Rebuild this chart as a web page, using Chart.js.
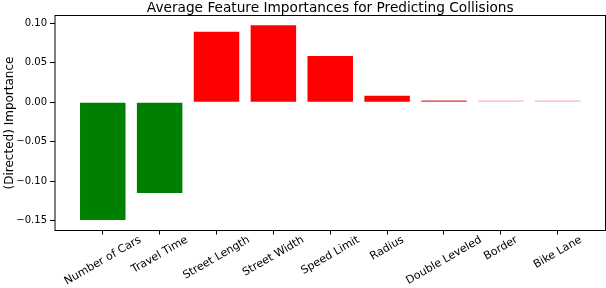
<!DOCTYPE html>
<html>
<head>
<meta charset="utf-8">
<script src="https://cdn.jsdelivr.net/npm/chart.js@4"></script>
<style>
  html, body { margin: 0; padding: 0; background: #ffffff; }
  #wrap { width: 606px; height: 288px; position: relative; }
</style>
</head>
<body>
<div id="wrap"><canvas id="c" width="606" height="288"></canvas></div>
<script>
// ---- data ----
const categories = ["Number of Cars", "Travel Time", "Street Length", "Street Width", "Speed Limit", "Radius", "Double Leveled", "Border", "Bike Lane"];
const importances = [-0.149, -0.1148, 0.0894, 0.0975, 0.0586, 0.0084, 0.0021, 0.0022, 0.0022];
const yTickValues = [-0.15, -0.10, -0.05, 0.00, 0.05, 0.10];
const titleText = "Average Feature Importances for Predicting Collisions";
const yAxisLabel = "(Directed) Importance";

// ---- styles ----
const barColors = ["#008000", "#008000", "#ff0000", "#ff0000", "#ff0000", "#ff0000", "rgba(235,30,30,0.95)", "rgba(255,0,0,0.3)", "rgba(255,0,0,0.3)"];
const FONT = "'DejaVu Sans', sans-serif";

const points = categories.map((c, i) => ({ x: i, y: importances[i] }));

const fmt = v => {
  const s = Math.abs(v).toFixed(2);
  return v < -1e-9 ? "\u2212" + s : s;
};

const framePlugin = {
  id: 'frame',
  afterDraw(chart) {
    const { ctx, chartArea: a } = chart;
    ctx.save();
    // frame
    ctx.strokeStyle = '#000';
    ctx.lineWidth = 1;
    ctx.strokeRect(a.left, a.top, a.right - a.left, a.bottom - a.top);
    // title
    ctx.fillStyle = '#000';
    ctx.font = "13.7px " + FONT;
    ctx.textAlign = 'center';
    ctx.textBaseline = 'alphabetic';
    ctx.fillText(titleText, (a.left + a.right) / 2, 12);
    // x tick labels, rotated 30deg, centred on tick
    const xs = chart.scales.x;
    ctx.font = "11px " + FONT;
    const h = 12.8;
    const ang = Math.PI / 6;
    categories.forEach((lab, i) => {
      const px = xs.getPixelForValue(i);
      const w = ctx.measureText(lab).width;
      const H = w * Math.sin(ang) + h * Math.cos(ang);
      const cy = a.bottom + 3 + H / 2;
      ctx.save();
      ctx.translate(px, cy);
      ctx.rotate(-ang);
      ctx.textAlign = 'center';
      ctx.textBaseline = 'middle';
      ctx.fillText(lab, 0, 0);
      ctx.restore();
    });
    ctx.restore();
  }
};

new Chart(document.getElementById('c'), {
  type: 'bar',
  data: {
    datasets: [{
      data: points,
      backgroundColor: barColors,
      borderWidth: 0,
      categoryPercentage: 1.0,
      barPercentage: 0.8
    }]
  },
  options: {
    responsive: false,
    animation: false,
    devicePixelRatio: 1,
    layout: { padding: { top: 15.5, right: 0.5, bottom: 0, left: 0 } },
    plugins: {
      legend: { display: false },
      title: { display: false },
      tooltip: { enabled: false }
    },
    scales: {
      x: {
        type: 'linear',
        offset: false,
        min: -0.84,
        max: 8.84,
        afterBuildTicks: s => { s.ticks = categories.map((c, i) => ({ value: i })); },
        afterFit: s => { s.height = 57.5; },
        ticks: { display: false },
        grid: { offset: false, drawOnChartArea: false, drawTicks: true, tickLength: 4, color: '#000', tickWidth: 1 },
        border: { display: false }
      },
      y: {
        min: -0.1624,
        max: 0.1099,
        afterBuildTicks: s => { s.ticks = yTickValues.map(v => ({ value: v })); },
        afterFit: s => { s.width = 55; },
        ticks: {
          color: '#000',
          font: { family: FONT, size: 10 },
          padding: 3,
          callback: v => fmt(v)
        },
        grid: { drawOnChartArea: false, drawTicks: true, tickLength: 5, color: '#000', tickWidth: 1 },
        border: { display: false },
        title: {
          display: true,
          text: yAxisLabel,
          color: '#000',
          font: { family: FONT, size: 12 },
          padding: { top: 3, bottom: 0 }
        }
      }
    }
  },
  plugins: [framePlugin]
});
</script>
</body>
</html>
